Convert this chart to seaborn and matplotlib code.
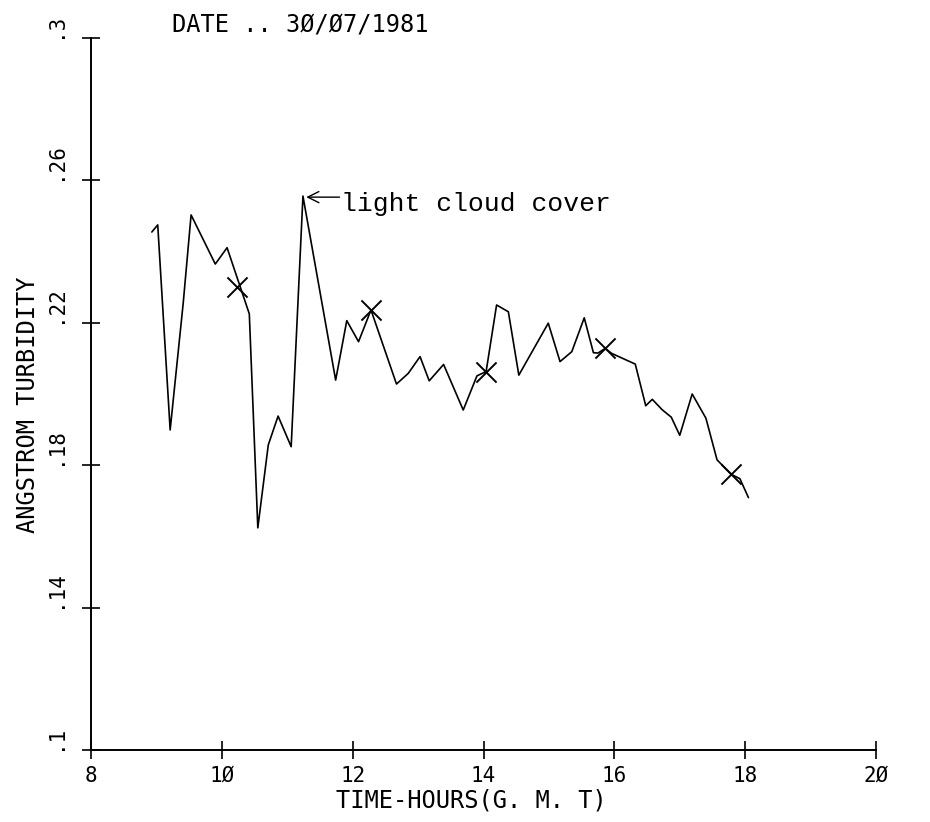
import matplotlib
matplotlib.use("Agg")
import matplotlib.pyplot as plt
import seaborn as sns
import pandas as pd

# Angstrom turbidity readings through the day (hours GMT)
hours = [8.93, 9.02, 9.21, 9.41, 9.53, 9.90, 10.08, 10.42, 10.55, 10.71,
         10.86, 11.06, 11.24, 11.74, 11.91, 12.09, 12.28, 12.67, 12.85, 13.03,
         13.17, 13.39, 13.69, 13.90, 14.04, 14.20, 14.38, 14.54, 14.99, 15.17,
         15.35, 15.54, 15.68, 15.75, 15.86, 15.96, 16.32, 16.48, 16.58, 16.73,
         16.87, 17.00, 17.19, 17.40, 17.57, 17.79, 17.92, 18.05]
turbidity = [0.2455, 0.2475, 0.1899, 0.2256, 0.2503, 0.2365, 0.2411, 0.2225, 0.1624, 0.1857,
             0.1938, 0.1852, 0.2556, 0.2039, 0.2206, 0.2147, 0.2236, 0.2028, 0.2058, 0.2105,
             0.2037, 0.2083, 0.1955, 0.2051, 0.2063, 0.2250, 0.2231, 0.2053, 0.2199, 0.2091,
             0.2119, 0.2214, 0.2116, 0.2115, 0.2128, 0.2114, 0.2084, 0.1967, 0.1985, 0.1956,
             0.1935, 0.1884, 0.2000, 0.1932, 0.1815, 0.1774, 0.1762, 0.1709]

# Marked reference readings
mark_hours = [10.23, 12.28, 14.04, 15.86, 17.79]
mark_turbidity = [0.2301, 0.2236, 0.2063, 0.2128, 0.1774]

x_ticks = [8, 10, 12, 14, 16, 18, 20]
x_tick_labels = ["8", "1Ø", "12", "14", "16", "18", "2Ø"]
y_ticks = [0.10, 0.14, 0.18, 0.22, 0.26, 0.30]
y_tick_labels = [".1", ".14", ".18", ".22", ".26", ".3"]

title_text = "DATE .. 3Ø/Ø7/1981"
x_label = "TIME-HOURS(G. M. T)"
y_label = "ANGSTROM TURBIDITY"
note_text = "light cloud cover"

sns.set_theme(style="white")
plot_font = ["DejaVu Sans Mono", "DejaVu Sans"]
plt.rcParams["font.family"] = plot_font

df = pd.DataFrame({"hour": hours, "turbidity": turbidity})
marks = pd.DataFrame({"hour": mark_hours, "turbidity": mark_turbidity})

fig = plt.figure(figsize=(9.3, 8.22), dpi=100)
ax = fig.add_axes([91 / 930, 1 - 750 / 822, (876 - 91) / 930, (750 - 38) / 822])

sns.lineplot(data=df, x="hour", y="turbidity", ax=ax, sort=False, estimator=None,
             color="black", linewidth=1.2)
sns.scatterplot(data=marks, x="hour", y="turbidity", ax=ax, marker="x", s=210,
                color="black", linewidth=1.4, zorder=3)

ax.set_xlim(8, 20)
ax.set_ylim(0.1, 0.3)
ax.set_xticks(x_ticks)
ax.set_xticklabels(x_tick_labels, fontsize=15)
ax.set_yticks(y_ticks)
ax.set_yticklabels(y_tick_labels, fontsize=15, rotation=90, va="bottom")
ax.set_xlabel("")
ax.set_ylabel("")

for side in ("top", "right"):
    ax.spines[side].set_visible(False)
for side in ("left", "bottom"):
    ax.spines[side].set_color("black")
    ax.spines[side].set_linewidth(1.4)

ax.tick_params(axis="both", which="major", bottom=True, left=True, top=False, right=False,
               direction="inout", length=13, width=1.2, color="black", labelcolor="black")
ax.tick_params(axis="x", pad=5)
ax.tick_params(axis="y", pad=12)

# Cloud note with a horizontal arrow pointing at the afternoon spike
tip = (11.29, 0.2553)
ax.annotate("", xy=tip, xytext=(24, 0), textcoords="offset points",
            arrowprops=dict(arrowstyle="->", color="black", lw=1.0,
                            shrinkA=0, shrinkB=0, mutation_scale=20))
ax.annotate(note_text, xy=tip, xytext=(25, -5), textcoords="offset points",
            fontsize=19, family=["Liberation Mono", "DejaVu Sans Mono"], color="black",
            ha="left", va="center")

fig.text(172 / 930, 1 - 25 / 822, title_text, fontsize=17, ha="left", va="center",
         color="black")
fig.text(471 / 930, 1 - 800 / 822, x_label, fontsize=17, ha="center", va="center",
         color="black")
fig.text(28 / 930, 1 - 405 / 822, y_label, fontsize=17, ha="center", va="center",
         rotation=90, color="black")

fig.savefig("out.png", dpi=100, facecolor="white")
